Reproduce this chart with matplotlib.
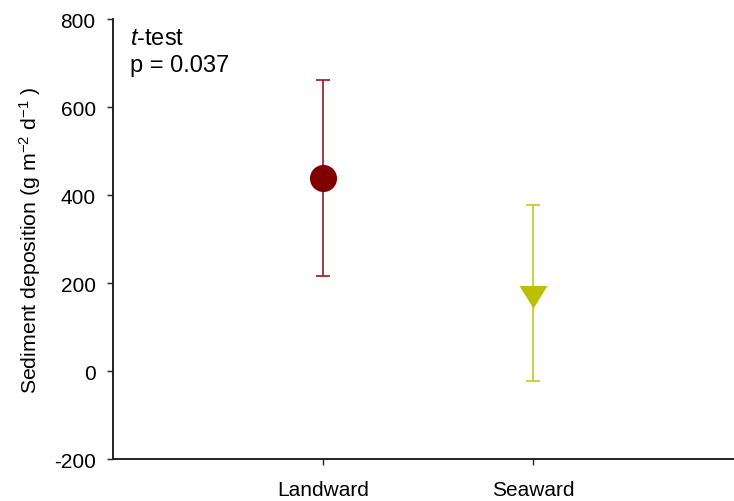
import matplotlib
matplotlib.use("Agg")
import matplotlib.pyplot as plt
import numpy as np

plt.rcParams['font.family'] = ['Liberation Sans', 'DejaVu Sans']
plt.rcParams['mathtext.fontset'] = 'custom'
plt.rcParams['mathtext.rm'] = 'Liberation Sans'
plt.rcParams['mathtext.it'] = 'Liberation Sans:italic'
plt.rcParams['mathtext.default'] = 'regular'
plt.rcParams['axes.unicode_minus'] = False

categories = ["Landward", "Seaward"]
means = [440, 178]
errors = [223, 200]
marker_colors = ["#800000", "#bcbf00"]
err_colors = ["#a0141e", "#c4c81e"]
p_value_text = "p = 0.037"

tri_down = [(-0.927, 0.5), (0.927, 0.5), (0.0, -1.0), (-0.927, 0.5)]
markers = ["o", tri_down]
msizes = [19.5, 21.7]

fig = plt.figure(figsize=(7.34, 5.02), dpi=100)
ax = fig.add_axes([0.154, 0.0827, 0.846, 0.8769])

x = np.arange(1, len(categories) + 1)
for i in range(len(categories)):
    ax.errorbar(x[i], means[i], yerr=errors[i], fmt='none', ecolor=err_colors[i],
                elinewidth=1.2, capsize=4.9, capthick=1.2, zorder=2)
    ax.plot(x[i], means[i], marker=markers[i], color=marker_colors[i],
            markersize=msizes[i], linestyle='none', markeredgewidth=0, zorder=3)

ax.set_xlim(0, 2.958)
ax.set_ylim(-200, 800)
ax.set_yticks([-200, 0, 200, 400, 600, 800])
ax.set_xticks(x)
ax.set_xticklabels(categories)

for s in ['top', 'right']:
    ax.spines[s].set_visible(False)
for s in ['left', 'bottom']:
    ax.spines[s].set_linewidth(1.4)
    ax.spines[s].set_color('#222222')
ax.tick_params(axis='both', direction='out', length=4.5, width=1, colors='#222222',
               labelsize=15, labelcolor='black')
ax.tick_params(axis='y', pad=8)
ax.tick_params(axis='x', pad=10)

ax.set_ylabel("Sediment deposition (g m$^{-2}$ d$^{-1}$ )", fontsize=15.3, labelpad=8)

ax.text(130 / 734, 1 - 45 / 502, "$\\mathit{t}$-test", transform=fig.transFigure,
        fontsize=17, va='baseline', ha='left')
ax.text(130 / 734, 1 - 72 / 502, p_value_text, transform=fig.transFigure,
        fontsize=17, va='baseline', ha='left')

fig.savefig("out.png", dpi=100)
